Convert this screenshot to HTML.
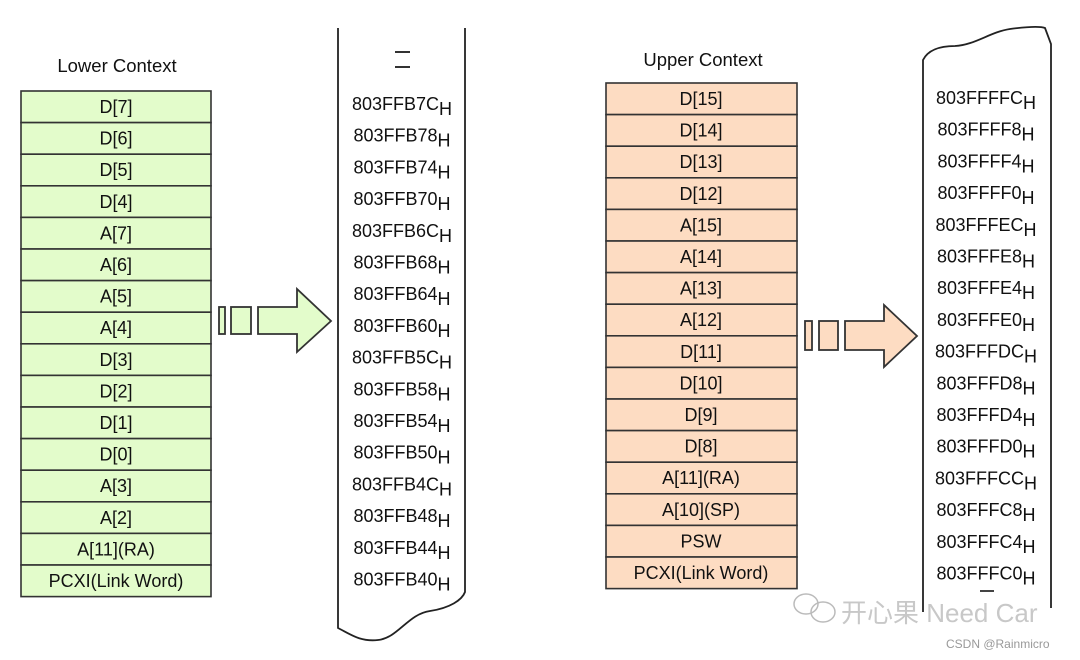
<!DOCTYPE html>
<html><head><meta charset="utf-8"><style>
html,body{margin:0;padding:0;background:#fff;}
svg{display:block;font-family:"Liberation Sans",Arial,sans-serif;}
</style></head><body>
<svg width="1080" height="660" viewBox="0 0 1080 660" xmlns="http://www.w3.org/2000/svg">
<text x="117" y="72" font-size="18.5" text-anchor="middle" fill="#111">Lower Context</text>
<g stroke="#333" stroke-width="1.6" fill="#e3fccb">
<rect x="21" y="91" width="190" height="31.6"/><rect x="21" y="122.6" width="190" height="31.6"/><rect x="21" y="154.2" width="190" height="31.6"/><rect x="21" y="185.8" width="190" height="31.6"/><rect x="21" y="217.4" width="190" height="31.6"/><rect x="21" y="249" width="190" height="31.6"/><rect x="21" y="280.6" width="190" height="31.6"/><rect x="21" y="312.2" width="190" height="31.6"/><rect x="21" y="343.8" width="190" height="31.6"/><rect x="21" y="375.4" width="190" height="31.6"/><rect x="21" y="407" width="190" height="31.6"/><rect x="21" y="438.6" width="190" height="31.6"/><rect x="21" y="470.2" width="190" height="31.6"/><rect x="21" y="501.8" width="190" height="31.6"/><rect x="21" y="533.4" width="190" height="31.6"/><rect x="21" y="565" width="190" height="31.6"/>
</g>
<g font-size="18" text-anchor="middle" fill="#111">
<text x="116" y="113">D[7]</text><text x="116" y="144.6">D[6]</text><text x="116" y="176.2">D[5]</text><text x="116" y="207.8">D[4]</text><text x="116" y="239.4">A[7]</text><text x="116" y="271">A[6]</text><text x="116" y="302.6">A[5]</text><text x="116" y="334.2">A[4]</text><text x="116" y="365.8">D[3]</text><text x="116" y="397.4">D[2]</text><text x="116" y="429">D[1]</text><text x="116" y="460.6">D[0]</text><text x="116" y="492.2">A[3]</text><text x="116" y="523.8">A[2]</text><text x="116" y="555.4">A[11](RA)</text><text x="116" y="587">PCXI(Link Word)</text>
</g>
<path d="M338 28 L338 628 C350 634 360 642 378 640 C398 638 408 614 430 611 C450 608 462 600 465 592 L465 28" fill="none" stroke="#222" stroke-width="1.8"/>
<line x1="395" y1="52" x2="410" y2="52" stroke="#333" stroke-width="2"/>
<line x1="395" y1="67" x2="410" y2="67" stroke="#333" stroke-width="2"/>
<g font-size="18" text-anchor="middle" fill="#111">
<text x="402" y="110">803FFB7C<tspan dy="5">H</tspan></text>
<text x="402" y="141.7">803FFB78<tspan dy="5">H</tspan></text>
<text x="402" y="173.4">803FFB74<tspan dy="5">H</tspan></text>
<text x="402" y="205.1">803FFB70<tspan dy="5">H</tspan></text>
<text x="402" y="236.8">803FFB6C<tspan dy="5">H</tspan></text>
<text x="402" y="268.5">803FFB68<tspan dy="5">H</tspan></text>
<text x="402" y="300.2">803FFB64<tspan dy="5">H</tspan></text>
<text x="402" y="331.9">803FFB60<tspan dy="5">H</tspan></text>
<text x="402" y="363.6">803FFB5C<tspan dy="5">H</tspan></text>
<text x="402" y="395.3">803FFB58<tspan dy="5">H</tspan></text>
<text x="402" y="427">803FFB54<tspan dy="5">H</tspan></text>
<text x="402" y="458.7">803FFB50<tspan dy="5">H</tspan></text>
<text x="402" y="490.4">803FFB4C<tspan dy="5">H</tspan></text>
<text x="402" y="522.1">803FFB48<tspan dy="5">H</tspan></text>
<text x="402" y="553.8">803FFB44<tspan dy="5">H</tspan></text>
<text x="402" y="585.5">803FFB40<tspan dy="5">H</tspan></text>
</g>
<g stroke="#333" stroke-width="1.8" fill="#e3fccb">
<rect x="219" y="307" width="6" height="27"/>
<rect x="231" y="307" width="20" height="27"/>
<path d="M258 307 L297 307 L297 289 L331 321 L297 352 L297 334 L258 334 Z"/>
</g>
<text x="703" y="66" font-size="18.5" text-anchor="middle" fill="#111">Upper Context</text>
<g stroke="#333" stroke-width="1.6" fill="#fddcc2">
<rect x="606" y="83" width="191" height="31.6"/><rect x="606" y="114.6" width="191" height="31.6"/><rect x="606" y="146.2" width="191" height="31.6"/><rect x="606" y="177.8" width="191" height="31.6"/><rect x="606" y="209.4" width="191" height="31.6"/><rect x="606" y="241" width="191" height="31.6"/><rect x="606" y="272.6" width="191" height="31.6"/><rect x="606" y="304.2" width="191" height="31.6"/><rect x="606" y="335.8" width="191" height="31.6"/><rect x="606" y="367.4" width="191" height="31.6"/><rect x="606" y="399" width="191" height="31.6"/><rect x="606" y="430.6" width="191" height="31.6"/><rect x="606" y="462.2" width="191" height="31.6"/><rect x="606" y="493.8" width="191" height="31.6"/><rect x="606" y="525.4" width="191" height="31.6"/><rect x="606" y="557" width="191" height="31.6"/>
</g>
<g font-size="18" text-anchor="middle" fill="#111">
<text x="701" y="105">D[15]</text><text x="701" y="136.6">D[14]</text><text x="701" y="168.2">D[13]</text><text x="701" y="199.8">D[12]</text><text x="701" y="231.4">A[15]</text><text x="701" y="263">A[14]</text><text x="701" y="294.6">A[13]</text><text x="701" y="326.2">A[12]</text><text x="701" y="357.8">D[11]</text><text x="701" y="389.4">D[10]</text><text x="701" y="421">D[9]</text><text x="701" y="452.6">D[8]</text><text x="701" y="484.2">A[11](RA)</text><text x="701" y="515.8">A[10](SP)</text><text x="701" y="547.4">PSW</text><text x="701" y="579">PCXI(Link Word)</text>
</g>
<g stroke="#333" stroke-width="1.8" fill="#fddcc2">
<rect x="805" y="321" width="7" height="29"/>
<rect x="819" y="321" width="19" height="29"/>
<path d="M845 321 L884 321 L884 305 L917 336 L884 367 L884 350 L845 350 Z"/>
</g>
<path d="M923 612 L923 60 C928 50 940 46 955 46 C975 45 990 32 1010 29 C1025 27 1040 26 1045 28 L1051 44 L1051 608" fill="none" stroke="#222" stroke-width="1.8"/>
<g font-size="18" text-anchor="middle" fill="#111">
<text x="986" y="104">803FFFFC<tspan dy="5">H</tspan></text>
<text x="986" y="135.7">803FFFF8<tspan dy="5">H</tspan></text>
<text x="986" y="167.4">803FFFF4<tspan dy="5">H</tspan></text>
<text x="986" y="199.1">803FFFF0<tspan dy="5">H</tspan></text>
<text x="986" y="230.8">803FFFEC<tspan dy="5">H</tspan></text>
<text x="986" y="262.5">803FFFE8<tspan dy="5">H</tspan></text>
<text x="986" y="294.2">803FFFE4<tspan dy="5">H</tspan></text>
<text x="986" y="325.9">803FFFE0<tspan dy="5">H</tspan></text>
<text x="986" y="357.6">803FFFDC<tspan dy="5">H</tspan></text>
<text x="986" y="389.3">803FFFD8<tspan dy="5">H</tspan></text>
<text x="986" y="421">803FFFD4<tspan dy="5">H</tspan></text>
<text x="986" y="452.7">803FFFD0<tspan dy="5">H</tspan></text>
<text x="986" y="484.4">803FFFCC<tspan dy="5">H</tspan></text>
<text x="986" y="516.1">803FFFC8<tspan dy="5">H</tspan></text>
<text x="986" y="547.8">803FFFC4<tspan dy="5">H</tspan></text>
<text x="986" y="579.5">803FFFC0<tspan dy="5">H</tspan></text>
</g>
<line x1="980" y1="591" x2="994" y2="591" stroke="#444" stroke-width="2"/>
<g fill="none" stroke="#bbb" stroke-width="1.5">
<ellipse cx="806" cy="604" rx="12" ry="10"/>
<ellipse cx="823" cy="612" rx="12" ry="10"/>
</g>
<text x="841" y="622" font-size="26" fill="#c8c8c8" font-family="'Liberation Sans','Noto Sans CJK SC',sans-serif">开心果 Need Car</text>
<text x="946" y="648" font-size="12" fill="#999">CSDN @Rainmicro</text>
</svg>
</body></html>
